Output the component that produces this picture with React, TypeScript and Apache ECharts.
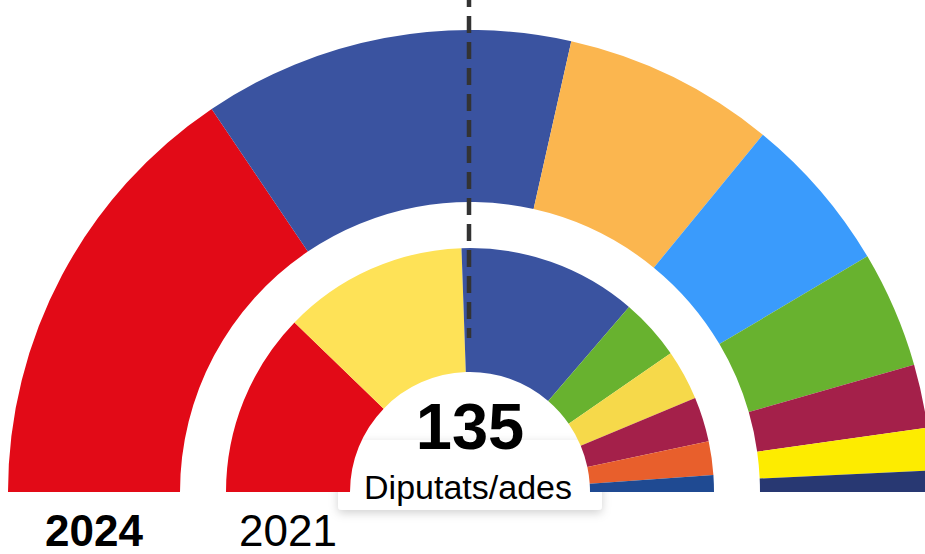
import React, { useEffect, useRef } from "react";
import * as echarts from "echarts";

const parties2024 = ["PSC", "Junts", "ERC", "PP", "Vox", "Comuns", "CUP", "Aliança Catalana"];
const seats2024 = [42, 35, 20, 15, 11, 6, 4, 2];
const colors2024 = ["#e20a17", "#3a53a0", "#fbb64f", "#3a9bfc", "#68b22f", "#a4204a", "#fdec00", "#283872"];

const parties2021 = ["PSC", "ERC", "Junts", "Vox", "CUP", "Comuns", "Cs", "PP"];
const seats2021 = [33, 33, 32, 11, 9, 8, 6, 3];
const colors2021 = ["#e20a17", "#fee257", "#3a53a0", "#68b22f", "#f6d94a", "#a4204a", "#e85f2c", "#1f4a92"];

const totalSeats = 135;
const yearLabels = ["2024", "2021"];
const centerLabel = "Diputats/ades";

export default function App() {
  const ref = useRef<HTMLDivElement>(null);
  useEffect(() => {
    document.body.style.margin = "0";
    const chart = echarts.init(ref.current!, undefined, { renderer: "svg" });
    const cx = 470;
    const cy = 492;
    const outer = [290, 462];
    const inner = [120, 244];
    const font = "'Liberation Sans', Arial, Helvetica, sans-serif";
    const mkSeries = (names: string[], vals: number[], cols: string[], r: number[]) => ({
      type: "pie",
      center: [cx, cy],
      radius: r,
      startAngle: 180,
      endAngle: 0,
      clockwise: true,
      silent: true,
      label: { show: false },
      labelLine: { show: false },
      itemStyle: { borderWidth: 0 },
      emphasis: { disabled: true },
      z: 2,
      data: names.map((n, i) => ({ name: n, value: vals[i], itemStyle: { color: cols[i] } })),
    });
    chart.setOption({
      animation: false,
      series: [
        mkSeries(parties2024, seats2024, colors2024, outer),
        mkSeries(parties2021, seats2021, colors2021, inner),
      ],
      graphic: [
        {
          type: "rect",
          z: 0,
          shape: { x: 338, y: 440, width: 264, height: 70, r: [0, 0, 4, 4] },
          style: { fill: "#fff", shadowBlur: 10, shadowOffsetY: 3, shadowColor: "rgba(0,0,0,0.18)" },
        },
        {
          type: "line",
          z: 20,
          shape: { x1: 469, y1: 0, x2: 469, y2: 338 },
          style: { stroke: "#333", lineWidth: 4.5, lineDash: [17, 9], lineDashOffset: 10 },
        },
        {
          type: "text",
          z: 20,
          x: cx,
          y: 426,
          style: { text: String(totalSeats), font: `bold 65px ${font}`, fill: "#000", align: "center", verticalAlign: "middle" },
        },
        {
          type: "text",
          z: 20,
          x: cx - 2,
          y: 487,
          style: { text: centerLabel, font: `34px ${font}`, fill: "#000", align: "center", verticalAlign: "middle" },
        },
        {
          type: "text",
          z: 20,
          x: cx - (outer[0] + outer[1]) / 2,
          y: 530,
          style: { text: yearLabels[0], font: `bold 44px ${font}`, fill: "#000", align: "center", verticalAlign: "middle" },
        },
        {
          type: "text",
          z: 20,
          x: cx - (inner[0] + inner[1]) / 2,
          y: 530,
          style: { text: yearLabels[1], font: `44px ${font}`, fill: "#000", align: "center", verticalAlign: "middle" },
        },
      ],
    });
    return () => chart.dispose();
  }, []);
  return <div ref={ref} style={{ width: 925, height: 554 }} />;
}
